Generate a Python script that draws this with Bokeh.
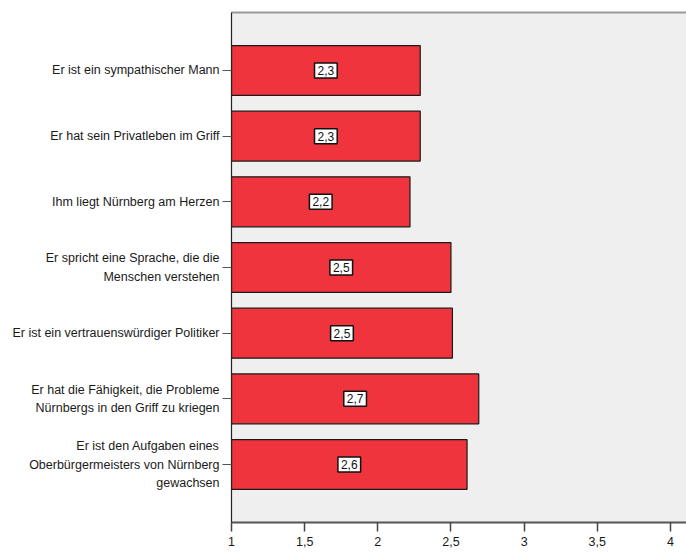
from bokeh.plotting import figure
from bokeh.models import FactorRange, Range1d, FixedTicker, LinearAxis, ColumnDataSource
from bokeh.core.properties import value
from bokeh.embed import file_html
from bokeh.resources import INLINE

statements = [
    "Er ist ein sympathischer Mann",
    "Er hat sein Privatleben im Griff",
    "Ihm liegt Nürnberg am Herzen",
    "Er spricht eine Sprache, die die\nMenschen verstehen",
    "Er ist ein vertrauenswürdiger Politiker",
    "Er hat die Fähigkeit, die Probleme\nNürnbergs in den Griff zu kriegen",
    "Er ist den Aufgaben eines\nOberbürgermeisters von Nürnberg\ngewachsen",
]
means = [2.29, 2.29, 2.22, 2.50, 2.51, 2.69, 2.61]
value_labels = ["2,3", "2,3", "2,2", "2,5", "2,5", "2,7", "2,6"]
x_ticks = [1, 1.5, 2, 2.5, 3, 3.5, 4]
x_tick_labels = ["1", "1,5", "2", "2,5", "3", "3,5", "4"]
baseline = 1

FONT = "Liberation Sans"

p = figure(
    width=686, height=552,
    y_range=FactorRange(factors=statements[::-1], range_padding=0.383,
                        range_padding_units="absolute"),
    x_range=Range1d(1, 4.11),
    output_backend="svg", toolbar_location=None,
    min_border_left=231, min_border_right=0, min_border_top=12, min_border_bottom=30,
)
p.background_fill_color = "#EFEFEF"
p.border_fill_color = "white"
p.outline_line_color = None
p.xgrid.grid_line_color = None
p.ygrid.grid_line_color = None

src = ColumnDataSource(dict(
    cat=statements,
    mean=means,
    lbl=value_labels,
    mid=[(baseline + m) / 2 for m in means],
))

p.hbar(y="cat", left=baseline, right="mean", height=0.76, source=src,
       fill_color="#EF343D", line_color="#1a1a1a", line_width=1.2)

p.text(x="mid", y="cat", text="lbl", source=src,
       text_align="center", text_baseline="middle",
       text_font=value(FONT), text_font_size="12px", text_color="#111",
       background_fill_color="white", border_line_color="#111",
       border_line_width=1.5, padding=3)

# bottom axis
xa = p.xaxis[0]
xa.ticker = FixedTicker(ticks=x_ticks)
xa.major_label_overrides = dict(zip(x_ticks, x_tick_labels))
xa.minor_tick_line_color = None
xa.major_tick_in = 0
xa.major_tick_out = 9
xa.major_label_standoff = 5
xa.axis_line_color = "#555"
xa.axis_line_width = 2
xa.major_tick_line_color = "#444"
xa.major_tick_line_width = 1.5
xa.major_label_text_font = FONT
xa.major_label_text_font_size = "12.5px"
xa.major_label_text_color = "#1a1a1a"

# left axis
ya = p.yaxis[0]
ya.major_tick_in = 0
ya.major_tick_out = 9
ya.major_label_standoff = 3
ya.axis_line_color = "#222"
ya.axis_line_width = 1.2
ya.major_tick_line_color = "#555"
ya.major_label_text_font = FONT
ya.major_label_text_font_size = "12.5px"
ya.major_label_text_color = "#1a1a1a"
ya.major_label_text_line_height = 1.32

# top border line
top = LinearAxis(ticker=FixedTicker(ticks=[]), axis_line_color="#999",
                 axis_line_width=2, major_label_text_font_size="0px",
                 major_tick_line_color=None, minor_tick_line_color=None,
                 major_label_standoff=0)
p.add_layout(top, "above")

open("out.html", "w").write(file_html(p, INLINE))
